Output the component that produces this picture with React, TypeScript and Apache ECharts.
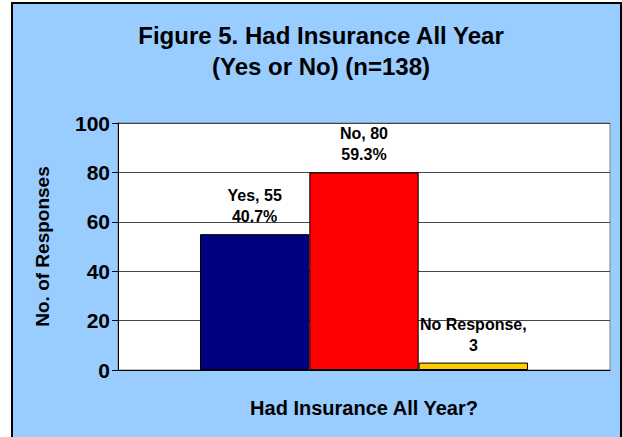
import React, { useEffect, useRef } from "react";
import * as echarts from "echarts";

const categories = ["Yes", "No", "No Response"];
const values = [55, 80, 3];
const percents = ["40.7%", "59.3%", ""];
const colors = ["#000080", "#FF0000", "#FFCC00"];
const yTicks = { min: 0, max: 100, interval: 20 };
const titleLines = ["Figure 5. Had Insurance All Year", "(Yes or No) (n=138)"];
const xAxisTitle = "Had Insurance All Year?";
const yAxisTitle = "No. of Responses";

const FONT = "'Liberation Sans', Arial, sans-serif";

export default function App() {
  const ref = useRef<HTMLDivElement>(null);
  useEffect(() => {
    if (!ref.current) return;
    const chart = echarts.init(ref.current, undefined, { renderer: "svg" });
    const series = categories.map((name, i) => ({
      name,
      type: "bar" as const,
      data: [values[i]],
      itemStyle: { color: colors[i], borderColor: "#000", borderWidth: 1 },
      label: {
        show: true,
        position: "top" as const,
        distance: 7,
        color: "#000",
        fontFamily: FONT,
        fontWeight: "bold" as const,
        fontSize: 16,
        lineHeight: 21,
        align: "center" as const,
        formatter: () =>
          name === "No Response"
            ? `${name},\n${values[i]}`
            : `${name}, ${values[i]}\n${percents[i]}`,
      },
      barGap: "0%",
      barCategoryGap: "33.33%",
    }));
    chart.setOption({
      animation: false,
      backgroundColor: "#fff",
      graphic: [
        {
          type: "rect",
          z: -10,
          shape: { x: 12, y: 3, width: 609, height: 440 },
          style: { fill: "#99CCFF", stroke: "#000", lineWidth: 2 },
          silent: true,
        },
      ],
      title: {
        text: titleLines.join("\n"),
        left: 316,
        top: 15,
        textAlign: "center",
        textStyle: {
          fontFamily: FONT,
          fontWeight: "bold",
          fontSize: 24,
          lineHeight: 31,
          color: "#000",
        },
      },
      grid: {
        left: 118,
        top: 123,
        width: 492,
        height: 247,
        show: true,
        backgroundColor: "#fff",
        borderColor: "#808080",
        borderWidth: 1,
      },
      xAxis: {
        type: "category",
        data: [""],
        name: xAxisTitle,
        nameLocation: "middle",
        nameGap: 28,
        nameTextStyle: {
          fontFamily: FONT,
          fontWeight: "bold",
          fontSize: 20,
          color: "#000",
        },
        axisLine: { lineStyle: { color: "#000", width: 1 } },
        axisTick: { show: false },
        axisLabel: { show: false },
      },
      yAxis: {
        type: "value",
        min: yTicks.min,
        max: yTicks.max,
        interval: yTicks.interval,
        name: yAxisTitle,
        nameLocation: "middle",
        nameGap: 66,
        nameTextStyle: {
          fontFamily: FONT,
          fontWeight: "bold",
          fontSize: 19,
          color: "#000",
        },
        axisLine: { show: true, lineStyle: { color: "#000", width: 1 } },
        axisTick: { show: true, length: 6, lineStyle: { color: "#000" } },
        axisLabel: {
          margin: 8,
          fontFamily: FONT,
          fontWeight: "bold",
          fontSize: 21,
          color: "#000",
        },
        splitLine: { show: true, lineStyle: { color: "#444", width: 1 } },
      },
      series,
    });
    return () => chart.dispose();
  }, []);
  return (
    <div
      ref={ref}
      style={{ position: "absolute", left: 0, top: 0, width: 622, height: 437 }}
    />
  );
}
